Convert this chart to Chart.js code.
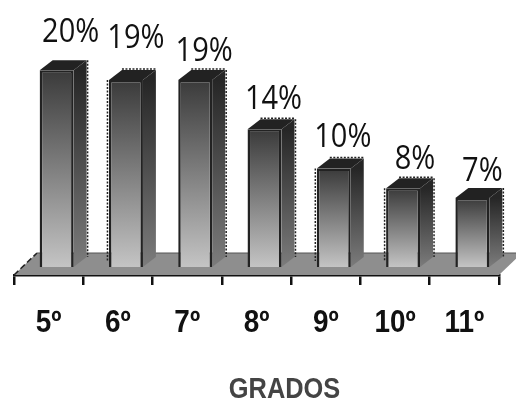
<!DOCTYPE html>
<html>
<head>
<meta charset="utf-8">
<title>Grados</title>
<script src="https://cdn.jsdelivr.net/npm/chart.js@4"></script>
<style>
  html, body { margin: 0; padding: 0; background: #fff; overflow: hidden; }
  canvas { display: block; }
</style>
</head>
<body>
<canvas id="gradosChart" width="516" height="401"></canvas>
<script>
const grados = ['5º', '6º', '7º', '8º', '9º', '10º', '11º'];
const porcentajes = [20, 19, 19, 14, 10, 8, 7];
const tituloEje = 'GRADOS';

// how far each percentage sits above its column
const labelRise = [28, 32, 19, 20, 22, 19, 17];
const labelShift = [14, 10, 9, 9, 9, 12, 10];

// which column edges come out jagged
const dottedLeft = [false, true, false, false, true, true, false];
const dottedTop = [false, true, true, true, true, true, false];
const dottedRight = [true, false, true, true, false, true, true];

// the columns stand back from the axis line, on the floor
const FLOOR_DX = 8, FLOOR_DY = -8;
const DEPTH_X = 13, DEPTH_Y = -10;

function columnGradient(ctx, top, bottom, from, to) {
  const g = ctx.createLinearGradient(0, top, 0, bottom);
  g.addColorStop(0, from);
  g.addColorStop(1, to);
  return g;
}

// canvas has no condensed face installed, so squeeze the text horizontally
function narrowText(ctx, text, x, y, squeeze) {
  ctx.save();
  ctx.translate(x, y);
  ctx.scale(squeeze, 1);
  ctx.fillText(text, 0, 0);
  ctx.restore();
}

function dotted(ctx, x1, y1, x2, y2) {
  ctx.beginPath();
  ctx.moveTo(x1, y1);
  ctx.lineTo(x2, y2);
  ctx.stroke();
}

const floorPlugin = {
  id: 'floor',
  beforeDatasetsDraw(chart) {
    const { ctx, chartArea: a } = chart;
    ctx.save();
    ctx.fillStyle = '#8e8e8e';
    ctx.beginPath();
    ctx.moveTo(a.left, a.bottom);
    ctx.lineTo(a.left + 23, a.bottom - 22);
    ctx.lineTo(a.right + 23, a.bottom - 22);
    ctx.lineTo(a.right, a.bottom);
    ctx.closePath();
    ctx.fill();
    ctx.strokeStyle = '#222';
    ctx.lineWidth = 1.5;
    ctx.setLineDash([6, 3]);
    dotted(ctx, a.left, a.bottom, a.left + 23, a.bottom - 22);
    ctx.setLineDash([]);
    ctx.strokeStyle = '#555';
    ctx.lineWidth = 1;
    dotted(ctx, a.left + 23, a.bottom - 22, a.right + 23, a.bottom - 22);
    ctx.restore();

    // shift the columns onto the floor
    ctx.save();
    ctx.translate(FLOOR_DX, FLOOR_DY);

    // side and top faces go behind the front of each column
    chart.getDatasetMeta(0).data.forEach(function(bar, i) {
      const right = bar.x + bar.width / 2;
      const left = bar.x - bar.width / 2;
      const top = bar.y;
      const bottom = bar.base;

      ctx.fillStyle = columnGradient(ctx, top, bottom, '#262626', '#7c7c7c');
      ctx.beginPath();
      ctx.moveTo(right, top);
      ctx.lineTo(right + DEPTH_X, top + DEPTH_Y);
      ctx.lineTo(right + DEPTH_X, bottom + DEPTH_Y);
      ctx.lineTo(right, bottom);
      ctx.closePath();
      ctx.fill();

      ctx.fillStyle = '#222';
      ctx.beginPath();
      ctx.moveTo(left, top);
      ctx.lineTo(left + DEPTH_X, top + DEPTH_Y);
      ctx.lineTo(right + DEPTH_X, top + DEPTH_Y);
      ctx.lineTo(right, top);
      ctx.closePath();
      ctx.fill();

      ctx.strokeStyle = '#222';
      ctx.lineWidth = 1.5;
      ctx.setLineDash([2, 1.5]);
      if (dottedLeft[i]) dotted(ctx, left - 1.5, top, left - 1.5, bottom - 6);
      if (dottedTop[i]) dotted(ctx, left + DEPTH_X, top + DEPTH_Y - 1, right + DEPTH_X, top + DEPTH_Y - 1);
      if (dottedRight[i]) dotted(ctx, right + DEPTH_X + 1, top + DEPTH_Y, right + DEPTH_X + 1, bottom + DEPTH_Y);
      ctx.setLineDash([]);
    });
  },
  afterDatasetsDraw(chart) {
    chart.ctx.restore();
  }
};

const textPlugin = {
  id: 'chartText',
  afterDraw(chart) {
    const { ctx, scales } = chart;
    ctx.save();
    ctx.textAlign = 'center';
    ctx.textBaseline = 'alphabetic';

    ctx.font = '33px "Open Sans"';
    ctx.fillStyle = '#111';
    chart.getDatasetMeta(0).data.forEach(function(bar, i) {
      narrowText(ctx, porcentajes[i] + '%',
        bar.x + FLOOR_DX + labelShift[i],
        bar.y + FLOOR_DY - labelRise[i], 0.88);
    });

    ctx.font = 'bold 31px "Liberation Sans"';
    grados.forEach(function(g, i) {
      narrowText(ctx, g, scales.x.getPixelForTick(i), 332, 0.9);
    });

    ctx.font = 'bold 29px "Liberation Sans"';
    ctx.fillStyle = '#444';
    narrowText(ctx, tituloEje, 284.5, 398, 0.875);
    ctx.restore();
  }
};

new Chart(document.getElementById('gradosChart'), {
  type: 'bar',
  data: {
    labels: grados,
    datasets: [{
      data: porcentajes,
      backgroundColor: function(c) {
        const y = c.chart.scales.y;
        if (!y || c.dataIndex === undefined || !c.chart.chartArea) return '#888';
        return columnGradient(c.chart.ctx, y.getPixelForValue(porcentajes[c.dataIndex]), y.getPixelForValue(0), '#3a3a3a', '#c4c4c4');
      },
      borderColor: '#222',
      borderWidth: 2.5,
      barPercentage: 0.49,
      categoryPercentage: 1
    }]
  },
  options: {
    responsive: false,
    animation: false,
    layout: { padding: { left: 14, right: 17, top: 29, bottom: 116 } },
    plugins: { legend: { display: false }, tooltip: { enabled: false } },
    scales: {
      x: {
        grid: { drawOnChartArea: false, color: '#111', lineWidth: 2.5, tickWidth: 2.5, tickColor: '#111', tickLength: 10, offset: true },
        border: { color: '#111', width: 2.5 },
        ticks: { display: false }
      },
      y: { display: false, min: 0, max: 25 }
    }
  },
  plugins: [floorPlugin, textPlugin]
});
</script>
</body>
</html>
